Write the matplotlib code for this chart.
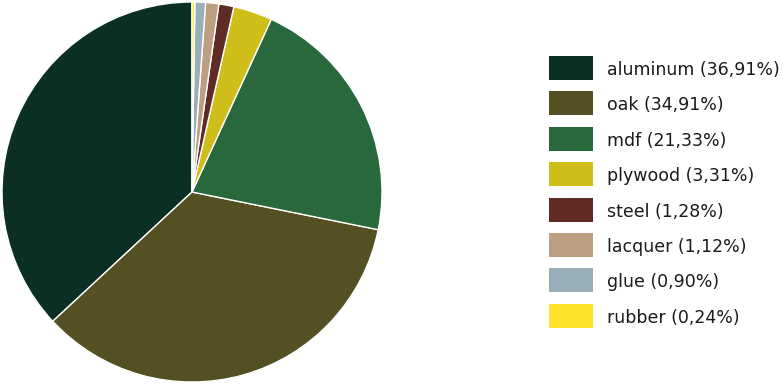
import matplotlib
matplotlib.use("Agg")
import matplotlib.pyplot as plt
from matplotlib.patches import Rectangle

# materials and their share (%)
materials = ["aluminum", "oak", "mdf", "plywood", "steel", "lacquer", "glue", "rubber"]
shares = [36.91, 34.91, 21.33, 3.31, 1.28, 1.12, 0.90, 0.24]
colors = ["#0b2e25", "#545022", "#29673c", "#cfbe1a", "#5f2b24", "#bc9e80", "#98aeb9", "#fde22a"]

plt.rcParams['font.family'] = ['DejaVu Sans']

W, H = 783, 384
fig = plt.figure(figsize=(W / 100, H / 100), dpi=100)
ax = fig.add_axes([2 / W, 2 / H, 380 / W, 380 / H])
ax.pie(shares, colors=colors, startangle=90, counterclock=True, radius=1,
       wedgeprops=dict(edgecolor="white", linewidth=1))
ax.set_xlim(-1, 1)
ax.set_ylim(-1, 1)
ax.set_aspect("equal")
ax.axis("off")

# legend drawn by hand (pixel layout, y measured from top)
labels = [f"{m} ({s:.2f}%)".replace(".", ",") for m, s in zip(materials, shares)]
box_x, box_w, box_h = 549, 44, 24
top, step = 56, 35.4
for i, (lab, c) in enumerate(zip(labels, colors)):
    y0 = top + i * step
    fig.add_artist(Rectangle((box_x / W, 1 - (y0 + box_h) / H), box_w / W, box_h / H,
                             transform=fig.transFigure, facecolor=c, edgecolor="none"))
    fig.text(607 / W, 1 - (y0 + box_h / 2) / H, lab, fontsize=12.5, color="#1a1a1a",
             ha="left", va="center_baseline")

fig.savefig("out.png", dpi=100)
